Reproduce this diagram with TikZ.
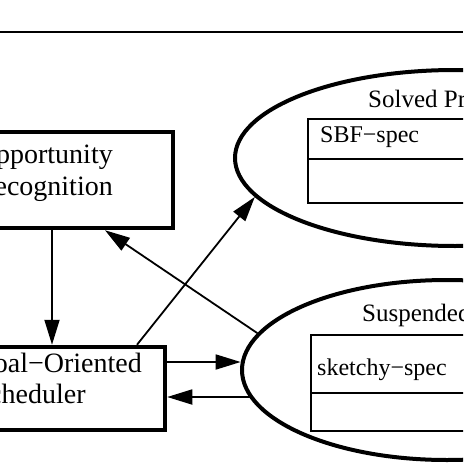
\documentclass[tikz,border=0pt]{standalone}
\usepackage{fontspec}
\setmainfont{Liberation Serif}
\usetikzlibrary{arrows.meta,shapes.geometric}
\begin{document}
\begin{tikzpicture}[x=1pt,y=-1pt,
  box/.style={draw, rectangle, line width=4.5pt, inner sep=0pt},
  blob/.style={draw, ellipse, line width=4pt, inner sep=0pt},
  part/.style={draw, rectangle, line width=2pt, inner sep=0pt, outer sep=0pt, anchor=north west},
  txt/.style={inner sep=0pt, font=\fontsize{28}{31}\selectfont},
  ttl/.style={inner sep=0pt, anchor=base west, font=\fontsize{25}{28}\selectfont},
  itxt/.style={inner sep=0pt, anchor=base west, font=\fontsize{24}{27}\selectfont},
  arr/.style={line width=1.8pt, -{Triangle[length=25pt,width=15pt]}}]
\useasboundingbox (0,0) rectangle (463,463);
\clip (0,0) rectangle (463,463);
\draw[line width=2pt] (0,32) -- (463,32);
% boxes
\node[box, minimum width=242pt, minimum height=96pt] (opp) at (52,180) {};
\node[box, minimum width=226pt, minimum height=83pt] (goal) at (52,388.5) {};
% ellipses
\node[blob, minimum width=440pt, minimum height=176pt] (sol) at (455,158) {};
\node[blob, minimum width=410pt, minimum height=180pt] (sus) at (447,370) {};
% inner compartments
\node[part, minimum width=300pt, minimum height=84pt] (sbf) at (308,119) {};
\draw[line width=2pt] ([yshift=-40pt]sbf.north west) -- ([yshift=-40pt]sbf.north east);
\node[part, minimum width=300pt, minimum height=96pt] (sk) at (311,335) {};
\draw[line width=2pt] ([yshift=-58pt]sk.north west) -- ([yshift=-58pt]sk.north east);
% texts
\node[txt, anchor=base east] (o1) at (113,163) {Opportunity};
\node[txt, anchor=base west] (o2) at ([yshift=-32pt]o1.base west) {Recognition};
\node[txt, anchor=base east] (g1t) at (142,372) {Goal−Oriented};
\node[txt, anchor=base west] (g2t) at ([yshift=-31pt]g1t.base west) {Scheduler};
\node[ttl] (solt) at (368,107) {Solved Problems};
\node[ttl] (sust) at (362,321) {Suspended Problems};
\node[itxt] (sbft) at (320,142) {SBF−spec};
\node[itxt] (skt) at (317,375) {sketchy−spec};
% connectors
\draw[arr] (opp) -- (goal);
\draw[arr] ([xshift=85pt]goal.north) -- (sol.191.4);
\draw[arr] (sus.169.5) -- ([xshift=53pt]opp.south);
\coordinate (ga) at ([yshift=26.5pt]goal.east);
\coordinate (gb) at ([yshift=-8.5pt]goal.east);
\draw[arr] (ga) -- (sus.178 |- ga);
\draw[arr] (sus.188 |- gb) -- (gb);
\end{tikzpicture}
\end{document}
